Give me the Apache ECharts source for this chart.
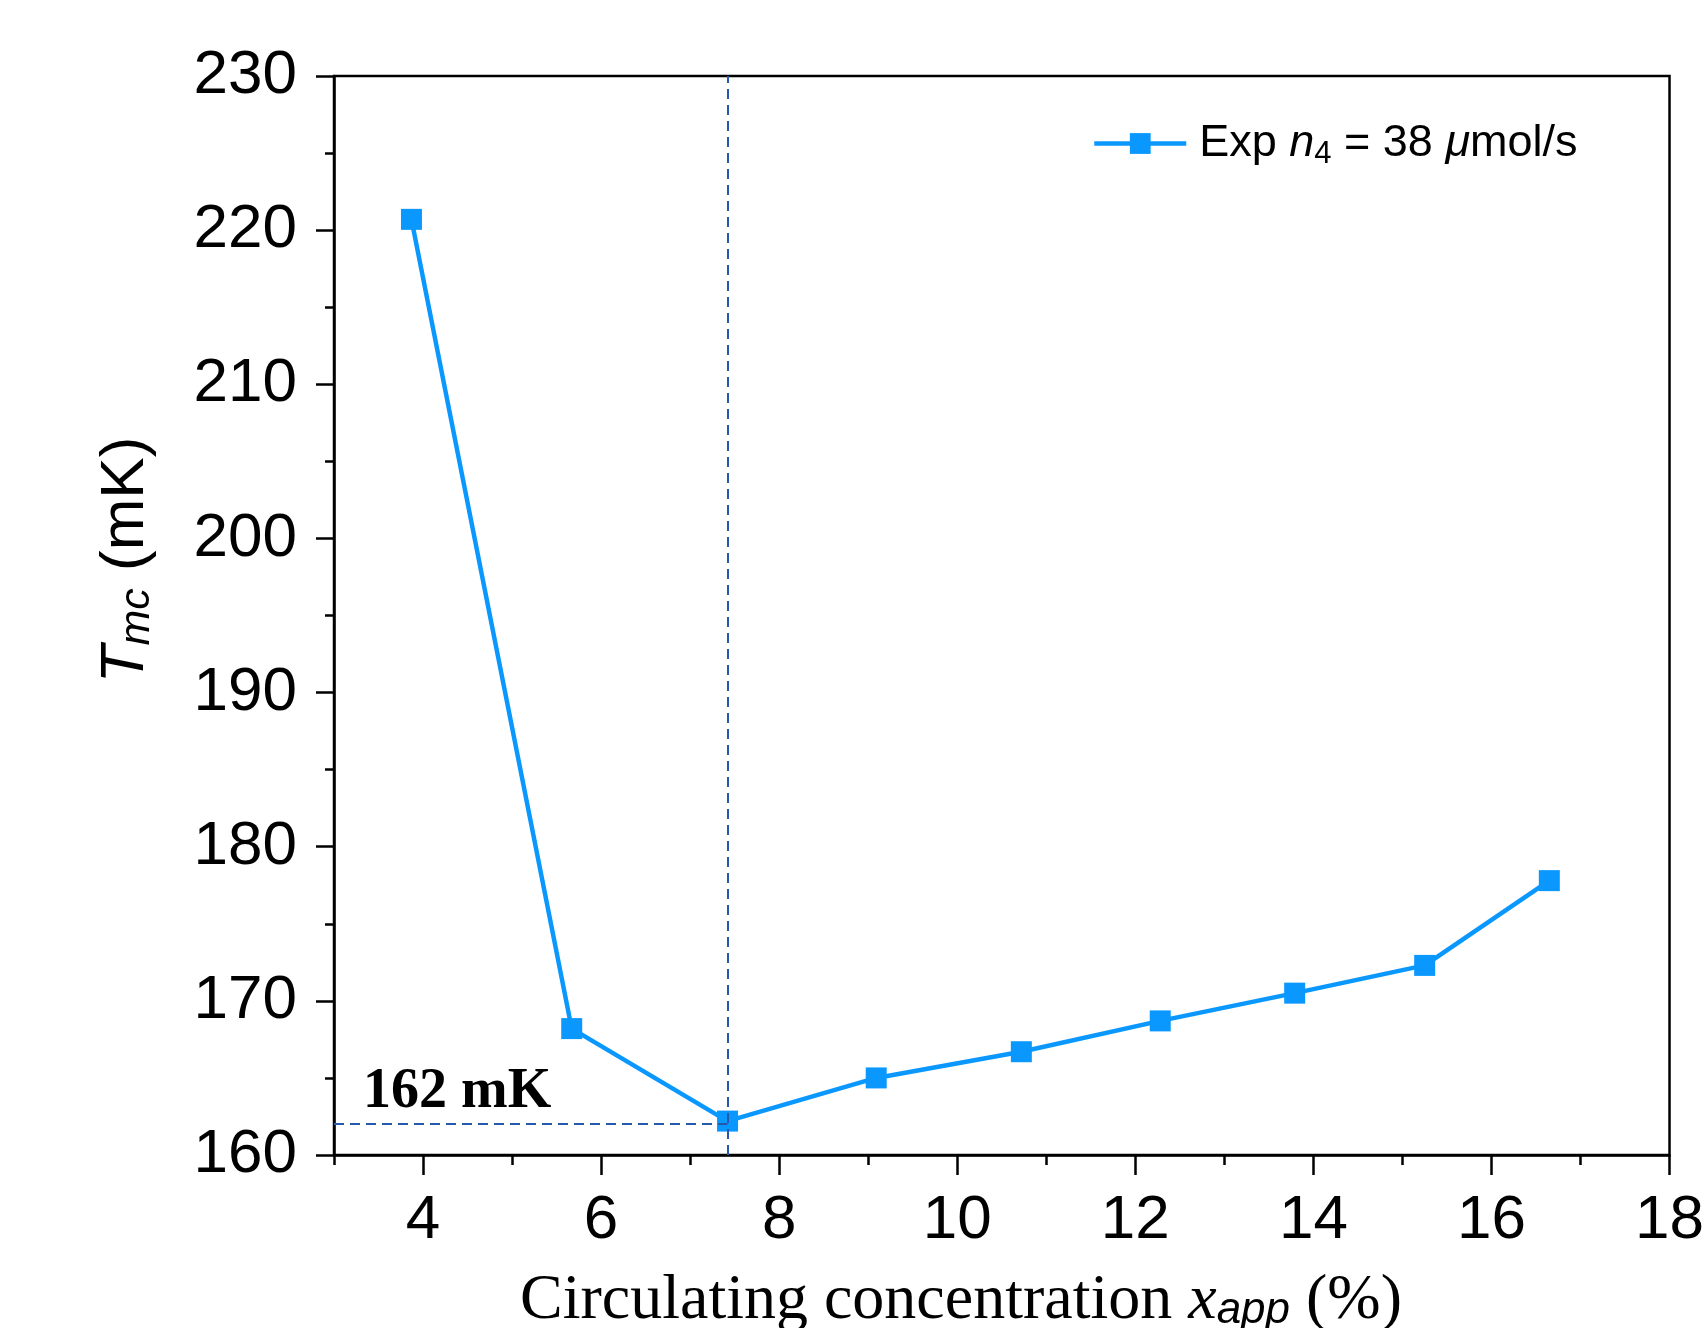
<!DOCTYPE html>
<html>
<head>
<meta charset="utf-8">
<title>Tmc vs circulating concentration</title>
<script src="https://cdn.jsdelivr.net/npm/echarts@6/dist/echarts.min.js"></script>
<style>
  html, body { margin: 0; padding: 0; background: #fff; }
  #chart { width: 1707px; height: 1328px; }
</style>
</head>
<body>
<div id="chart"></div>
<script>
  // data
  const xApp = [3.87, 5.67, 7.42, 9.09, 10.72, 12.28, 13.79, 15.25, 16.65]
  const tMc = [220.7, 168.2, 162.2, 165.0, 166.7, 168.7, 170.5, 172.3, 177.8]
  const xMajorTicks = [4, 6, 8, 10, 12, 14, 16, 18]
  const xMinorTicks = [3, 5, 7, 9, 11, 13, 15, 17]
  const minMarkX = 7.42
  const minMarkY = 162
  const minLabel = '162 mK'
  const seriesName = 'Exp n4 = 38 μmol/s'

  const sans = '"Liberation Sans", Arial, sans-serif'
  const serif = '"Liberation Serif", "Times New Roman", serif'
  const blue = '#0a98ff'
  const dashBlue = '#2559aa'

  const chart = echarts.init(document.getElementById('chart'))

  chart.setOption({
    backgroundColor: '#fff',
    animation: false,
    grid: {
      left: 334,
      top: 76,
      right: 34,
      bottom: 173,
      show: true,
      borderColor: '#000',
      borderWidth: 2.5
    },
    legend: {
      left: 1092,
      top: 121,
      padding: 0,
      itemWidth: 92,
      itemHeight: 26,
      data: [seriesName],
      lineStyle: { width: 4.5 },
      formatter: () => '{g|Exp }{i|n}{s|4}{a| = 38 }{i|μ}{a|mol/s}',
      textStyle: {
        color: '#000',
        fontFamily: sans,
        fontSize: 45,
        rich: {
          g: { fontFamily: sans, fontSize: 45, lineHeight: 52, padding: [0, 0, 0, 8] },
          a: { fontFamily: sans, fontSize: 45, lineHeight: 52 },
          i: { fontFamily: sans, fontSize: 45, fontStyle: 'italic', lineHeight: 52 },
          s: { fontFamily: sans, fontSize: 31, lineHeight: 16, verticalAlign: 'bottom' }
        }
      }
    },
    xAxis: [{
      type: 'value',
      min: 3,
      max: 18,
      position: 'bottom',
      splitLine: { show: false },
      axisLine: { lineStyle: { color: '#000', width: 2.5 } },
      axisTick: { customValues: xMajorTicks, length: 20, lineStyle: { color: '#000', width: 2.5 } },
      axisLabel: {
        customValues: xMajorTicks,
        margin: 35,
        color: '#000',
        fontFamily: sans,
        fontSize: 62
      }
    }, {
      type: 'value',
      min: 3,
      max: 18,
      position: 'bottom',
      splitLine: { show: false },
      axisLine: { show: false },
      axisTick: { customValues: xMinorTicks, length: 10, lineStyle: { color: '#000', width: 2.5 } },
      axisLabel: { show: false }
    }],
    yAxis: {
      type: 'value',
      min: 160,
      max: 230,
      interval: 10,
      splitLine: { show: false },
      axisLine: { show: true, lineStyle: { color: '#000', width: 2.5 } },
      axisTick: { show: true, length: 18, lineStyle: { color: '#000', width: 2.5 } },
      minorTick: { show: true, splitNumber: 2, length: 9, lineStyle: { color: '#000', width: 2.5 } },
      axisLabel: {
        margin: 37,
        color: '#000',
        fontFamily: sans,
        fontSize: 62
      }
    },
    graphic: [{
      type: 'text',
      x: 126,
      y: 560,
      rotation: Math.PI / 2,
      style: {
        text: '{i|T}{s|mc}{a| (mK)}',
        align: 'center',
        verticalAlign: 'middle',
        fill: '#000',
        rich: {
          i: { fontFamily: sans, fontSize: 62, fontStyle: 'italic', lineHeight: 66, fill: '#000' },
          s: { fontFamily: sans, fontSize: 43, fontStyle: 'italic', lineHeight: 34, verticalAlign: 'bottom', fill: '#000' },
          a: { fontFamily: sans, fontSize: 62, lineHeight: 66, fill: '#000' }
        }
      }
    }, {
      type: 'text',
      x: 961,
      y: 1269,
      style: {
        text: '{a|Circulating concentration }{i|x}{s|app}{a| (%)}',
        align: 'center',
        verticalAlign: 'top',
        fill: '#000',
        rich: {
          a: { fontFamily: serif, fontSize: 64, lineHeight: 64, fill: '#000' },
          i: { fontFamily: serif, fontSize: 64, fontStyle: 'italic', lineHeight: 64, fill: '#000' },
          s: { fontFamily: sans, fontSize: 44, fontStyle: 'italic', lineHeight: 30, verticalAlign: 'bottom', fill: '#000' }
        }
      }
    }],
    series: [{
      name: seriesName,
      type: 'line',
      data: xApp.map((x, i) => [x, tMc[i]]),
      symbol: 'rect',
      symbolSize: 21,
      itemStyle: { color: blue },
      lineStyle: { color: blue, width: 4.5 },
      z: 3,
      markLine: {
        silent: true,
        symbol: ['none', 'none'],
        lineStyle: { color: dashBlue, width: 2, type: [10, 6] },
        label: { show: false },
        data: [
          { xAxis: minMarkX },
          [
            {
              coord: [3, minMarkY],
              label: {
                show: true,
                formatter: minLabel,
                position: 'insideStartTop',
                distance: [29, 4],
                color: '#000',
                fontFamily: serif,
                fontWeight: 'bold',
                fontSize: 56
              }
            },
            { coord: [minMarkX, minMarkY] }
          ]
        ]
      }
    }]
  })
</script>
</body>
</html>
